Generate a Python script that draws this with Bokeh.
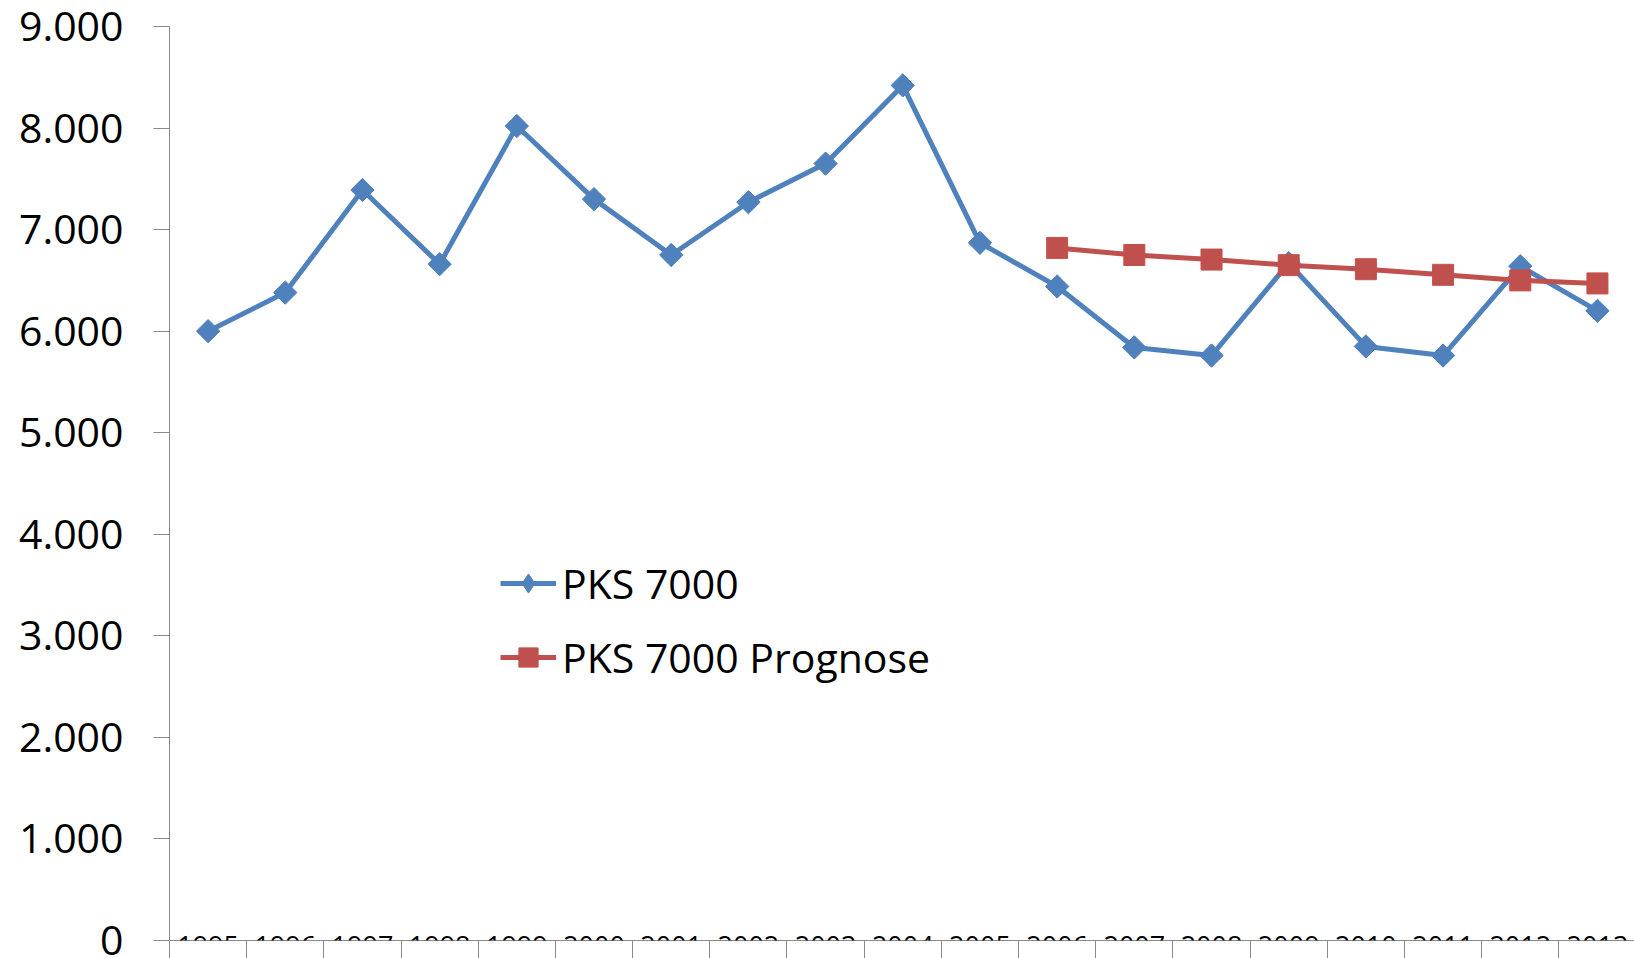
from bokeh.plotting import figure
from bokeh.models import (Range1d, LinearAxis, FixedTicker, Legend, LegendItem)
from bokeh.embed import file_html
from bokeh.resources import INLINE
import math

years = ["1995", "1996", "1997", "1998", "1999", "2000", "2001", "2002", "2003", "2004",
         "2005", "2006", "2007", "2008", "2009", "2010", "2011", "2012", "2013"]
pks_7000 = [6000, 6380, 7390, 6660, 8020, 7300, 6750, 7270, 7650, 8420,
            6870, 6440, 5840, 5760, 6670, 5850, 5760, 6640, 6200]
prognose_years = ["2006", "2007", "2008", "2009", "2010", "2011", "2012", "2013"]
pks_7000_prognose = [6820, 6750, 6705, 6650, 6610, 6555, 6500, 6470]
y_ticks = [0, 1000, 2000, 3000, 4000, 5000, 6000, 7000, 8000, 9000]
y_tick_labels = ["0", "1.000", "2.000", "3.000", "4.000", "5.000", "6.000", "7.000", "8.000", "9.000"]

BLUE = "#4F81BD"
RED = "#C0504D"
AXIS = "#8a8a8a"
FONT = "Open Sans"

# category centres / boundaries on a numeric scale
xpos = {y: i + 0.5 for i, y in enumerate(years)}
x_blue = [xpos[y] for y in years]
x_red = [xpos[y] for y in prognose_years]
boundaries = list(range(len(years)))

p = figure(width=1634, height=958,
           x_range=Range1d(0, 18.98), y_range=Range1d(0, 9000),
           x_axis_location=None,
           output_backend="svg", toolbar_location=None,
           min_border_left=169, min_border_right=0,
           min_border_top=26, min_border_bottom=18)
p.outline_line_color = None
p.grid.visible = False
p.background_fill_color = "white"
p.border_fill_color = "white"

# y axis
ya = p.yaxis[0]
ya.ticker = FixedTicker(ticks=y_ticks)
ya.major_label_overrides = {t: l for t, l in zip(y_ticks, y_tick_labels)}
ya.axis_line_color = AXIS
ya.major_tick_line_color = AXIS
ya.major_tick_out = 16
ya.major_tick_in = 0
ya.minor_tick_line_color = None
ya.major_label_standoff = 30
ya.major_label_text_font = FONT
ya.major_label_text_font_size = "41px"
ya.major_label_text_color = "black"

# x axis line with dividers between categories
xd = LinearAxis()
xd.ticker = FixedTicker(ticks=boundaries)
xd.axis_line_color = AXIS
xd.major_tick_line_color = AXIS
xd.major_tick_out = 18
xd.major_tick_in = 0
xd.minor_tick_line_color = None
xd.major_label_standoff = 0
xd.major_label_text_font_size = "0px"
xd.major_label_text_alpha = 0
p.add_layout(xd, "below")

# category labels (centred in each category)
xa = LinearAxis(fixed_location=0)
xa.ticker = FixedTicker(ticks=x_blue)
xa.major_label_overrides = {xpos[y]: y for y in years}
xa.axis_line_color = None
xa.major_tick_line_color = None
xa.minor_tick_line_color = None
xa.major_tick_out = 0
xa.major_tick_in = 0
xa.major_label_standoff = -5
xa.major_label_text_font = FONT
xa.major_label_text_font_size = "27px"
xa.major_label_text_color = "black"
p.add_layout(xa, "below")

# series
bl = p.line(x_blue, pks_7000, line_color=BLUE, line_width=5)
# narrow diamond lies fully under the rotated square; it gives the legend its diamond
bd = p.scatter(x_blue, pks_7000, marker="diamond", size=18, fill_color=BLUE, line_color=BLUE)
bs = p.scatter(x_blue, pks_7000, marker="square", size=16.5, angle=math.pi / 4,
               fill_color=BLUE, line_color=BLUE)
rl = p.line(x_red, pks_7000_prognose, line_color=RED, line_width=5)
rs = p.scatter(x_red, pks_7000_prognose, marker="square", size=21,
               fill_color=RED, line_color=RED)

legend = Legend(items=[LegendItem(label="PKS 7000", renderers=[bl, bd]),
                       LegendItem(label="PKS 7000 Prognose", renderers=[rl, rs])],
                location=(331, 255))
legend.border_line_color = None
legend.background_fill_alpha = 0
legend.padding = 0
legend.margin = 0
legend.spacing = 18
legend.glyph_width = 56
legend.glyph_height = 48
legend.label_height = 56
legend.label_standoff = 6
legend.label_text_font = FONT
legend.label_text_font_size = "41px"
legend.label_text_color = "black"
p.add_layout(legend, "center")

open("out.html", "w").write(file_html(p, INLINE))
